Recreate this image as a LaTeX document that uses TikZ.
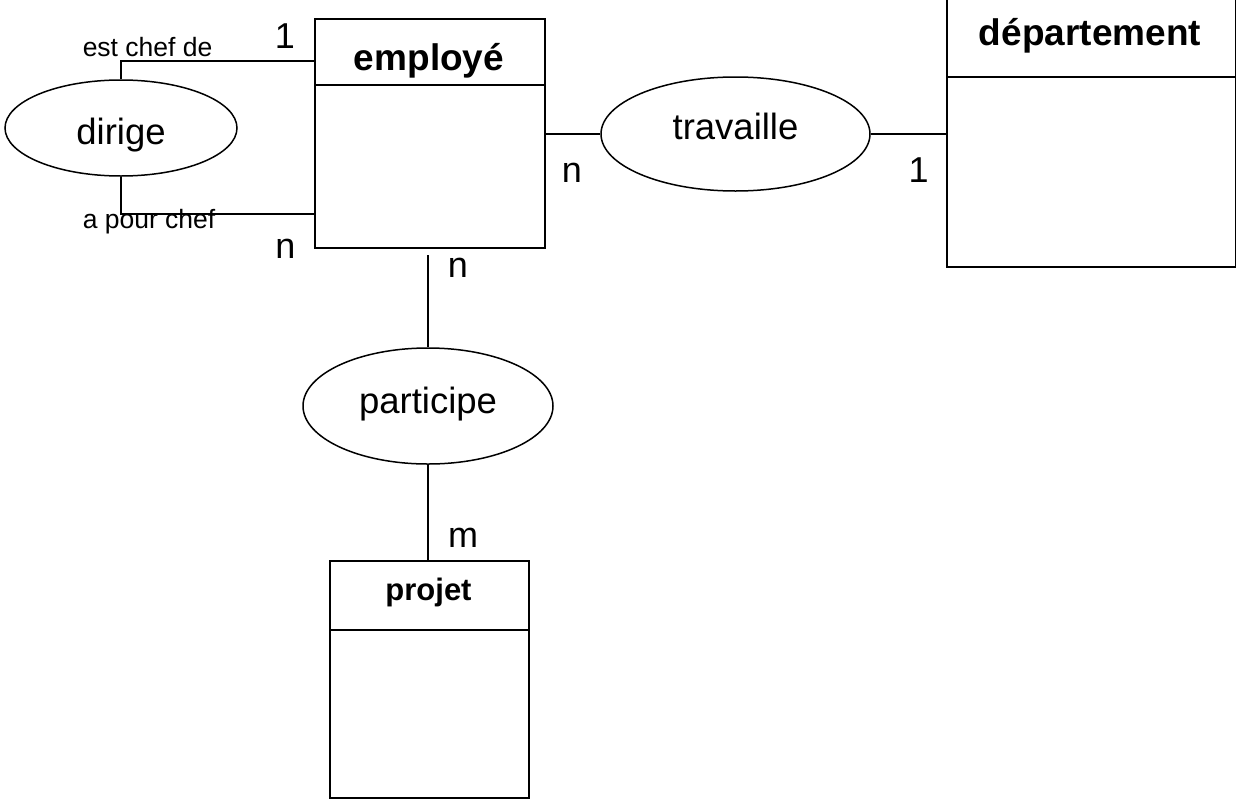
\documentclass[tikz,border=0pt]{standalone}
\usepackage{fontspec}
\setmainfont{Liberation Sans}
\usepackage{tikz}
\usetikzlibrary{calc,shapes.geometric}

\begin{document}
\begin{tikzpicture}[x=1pt,y=-1pt,line width=1.5pt,
  entite/.style={draw,line width=2pt,anchor=north west,inner sep=0pt},
  relation/.style={draw,ellipse,inner sep=0pt,text height=26pt,text depth=8pt,font=\fontsize{36.5}{40}\selectfont},
  titre/.style={anchor=base,inner sep=0pt,font=\fontsize{37}{40}\selectfont\bfseries},
  card/.style={anchor=base,inner sep=0pt,font=\fontsize{36}{40}\selectfont},
  role/.style={anchor=base west,inner sep=0pt,font=\fontsize{26.5}{30}\selectfont}]
\useasboundingbox (0,0) rectangle (1236,798);

% entites
\node[entite,minimum width=230pt,minimum height=229pt] (employe) at (314,18) {};
\node[entite,minimum width=289pt,minimum height=286pt] (departement) at (946,-20) {};
\node[entite,minimum width=199pt,minimum height=237pt] (projet) at (329,560) {};

\draw[line width=2pt] ([yshift=-67pt]employe.north west) -- ([yshift=-67pt]employe.north east);
\draw[line width=2pt] ([yshift=-97pt]departement.north west) -- ([yshift=-97pt]departement.north east);
\draw[line width=2pt] ([yshift=-70pt]projet.north west) -- ([yshift=-70pt]projet.north east);

\node[titre] (t-employe) at (429,70) {employé};
\node[titre] (t-departement) at (1090,45) {département};
\node[titre,font=\fontsize{31}{34}\selectfont\bfseries] (t-projet) at (428.5,600) {projet};

% relations
\node[relation,minimum width=232pt,minimum height=96pt,text height=38pt,text depth=6pt] (dirige) at (121,128) {dirige};
\node[relation,minimum width=269pt,minimum height=114pt,text depth=16pt] (travaille) at (735.5,134) {travaille};
\node[relation,minimum width=250pt,minimum height=116pt,text depth=12pt] (participe) at (428,406) {participe};

\draw (dirige.north) |- ([yshift=-43pt]employe.north west);
\draw (dirige.south) |- ([yshift=-196pt]employe.north west);
\draw (employe.east |- travaille.west) -- (travaille.west);
\draw (travaille.east) -- (departement.west |- travaille.east);
\draw ($(participe.north |- employe.south)+(0,6)$) -- (participe.north);
\draw (participe.south) -- (participe.south |- projet.north);

% roles et cardinalites
\node[role] (r-chef) at (82,56) {est chef de};
\node[role] (r-pourchef) at (82,228) {a pour chef};
\node[card] (c-chef) at (285,48) {1};
\node[card] (c-pourchef) at (285.5,258) {n};
\node[card] (c-emptrav) at (572,182) {n};
\node[card] (c-deptrav) at (918.5,182) {1};
\node[card] (c-emppart) at (458,277) {n};
\node[card] (c-projpart) at (463,547) {m};

\end{tikzpicture}
\end{document}
